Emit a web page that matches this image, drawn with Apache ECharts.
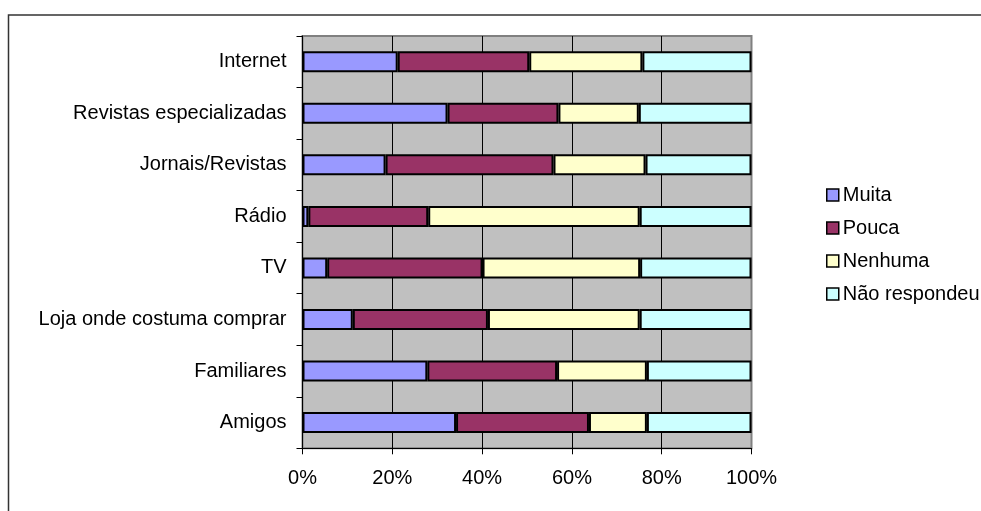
<!DOCTYPE html>
<html>
<head>
<meta charset="utf-8">
<script src="https://cdn.jsdelivr.net/npm/echarts@6/dist/echarts.min.js"></script>
<style>
  html, body { margin: 0; padding: 0; background: #fff; }
  #chart { width: 981px; height: 511px; }
</style>
</head>
<body>
<div id="chart"></div>
<script>
// Fontes de informação e grau de confiança (percentual por fonte)
const categories = ['Internet', 'Revistas especializadas', 'Jornais/Revistas', 'Rádio', 'TV', 'Loja onde costuma comprar', 'Familiares', 'Amigos'];
const muita        = [21.2, 32.3, 18.5, 1.3, 5.5, 11.2, 27.8, 34.2];
const pouca        = [29.3, 24.7, 37.4, 26.7, 34.6, 30.1, 28.9, 29.6];
const nenhuma      = [25.2, 17.9, 20.5, 47.1, 35.1, 33.8, 20.0, 12.9];
const naoRespondeu = [24.3, 25.1, 23.6, 24.9, 24.8, 24.9, 23.3, 23.3];
const xTicks = [0, 20, 40, 60, 80, 100];

const seriesDefs = [
  { name: 'Muita', data: muita, color: '#9999FF' },
  { name: 'Pouca', data: pouca, color: '#993366' },
  { name: 'Nenhuma', data: nenhuma, color: '#FFFFCC' },
  { name: 'Não respondeu', data: naoRespondeu, color: '#CCFFFF' }
];

const FONT = '"Liberation Sans", Arial, sans-serif';
const chart = echarts.init(document.getElementById('chart'), null, { renderer: 'canvas' });

chart.setOption({
  animation: false,
  backgroundColor: '#ffffff',
  textStyle: { fontFamily: FONT },
  graphic: [{
    type: 'rect',
    shape: { x: 8.5, y: 15, width: 1000, height: 600 },
    style: { fill: 'none', stroke: '#333333', lineWidth: 1.5 },
    silent: true,
    z: -1
  }],
  grid: {
    left: 302.5,
    right: 229.5,
    top: 36,
    bottom: 62.7,
    show: true,
    backgroundColor: '#C0C0C0',
    borderColor: '#808080',
    borderWidth: 2,
    containLabel: false
  },
  legend: {
    orient: 'vertical',
    left: 821,
    top: 180,
    icon: 'rect',
    itemWidth: 12,
    itemHeight: 12,
    itemGap: 13,
    itemStyle: { borderColor: '#000', borderWidth: 1.5 },
    textStyle: { fontFamily: FONT, fontSize: 20, color: '#000', lineHeight: 20, padding: [0, 0, 0, -1] },
    data: seriesDefs.map(s => s.name)
  },
  xAxis: {
    type: 'value',
    min: xTicks[0],
    max: xTicks[xTicks.length - 1],
    interval: xTicks[1] - xTicks[0],
    axisLine: { show: true, lineStyle: { color: '#000', width: 1 } },
    axisTick: { show: true, length: 6, lineStyle: { color: '#000' } },
    axisLabel: { formatter: '{value}%', fontFamily: FONT, fontSize: 20, color: '#000', margin: 20 },
    splitLine: { show: true, showMaxLine: false, lineStyle: { color: '#000', width: 1 } }
  },
  yAxis: {
    type: 'category',
    inverse: true,
    data: categories,
    axisLine: { show: true, lineStyle: { color: '#000', width: 1 } },
    axisTick: { show: true, length: 6, inside: false, alignWithLabel: false, lineStyle: { color: '#000' } },
    axisLabel: { fontFamily: FONT, fontSize: 20, color: '#000', margin: 16 },
    splitLine: { show: false }
  },
  series: seriesDefs.map(s => ({
    name: s.name,
    type: 'bar',
    stack: 'total',
    data: s.data,
    barWidth: 21,
    itemStyle: { color: s.color, borderColor: '#000', borderWidth: 2 },
    emphasis: { disabled: true }
  }))
});
</script>
</body>
</html>
